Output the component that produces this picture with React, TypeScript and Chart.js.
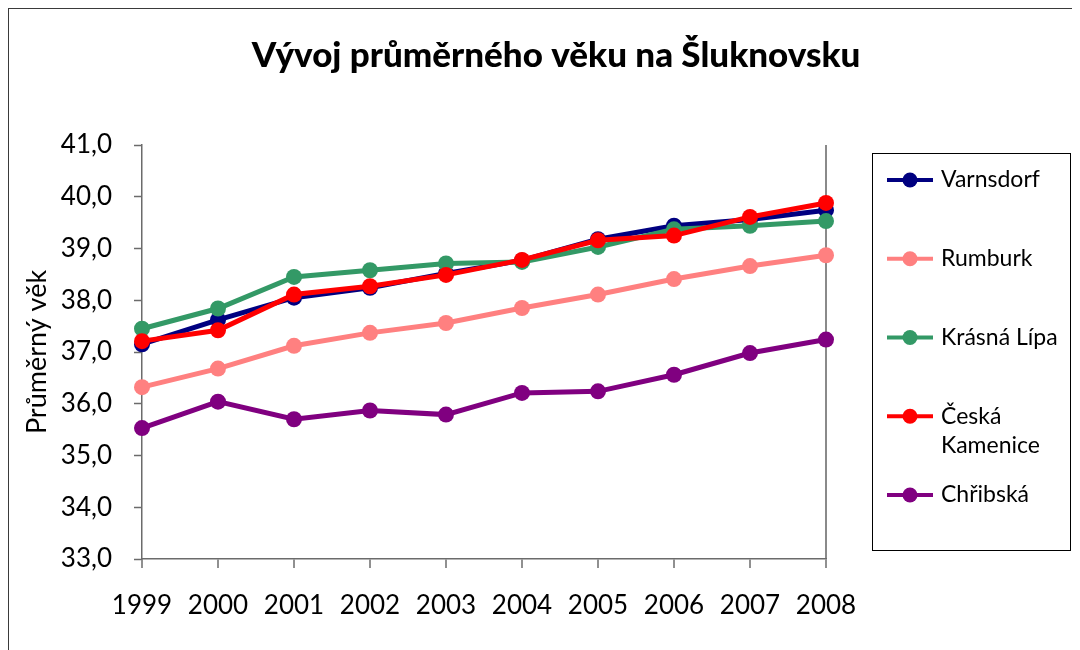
import React, { useEffect, useRef } from "react";
import { Chart, registerables } from "chart.js";

Chart.register(...registerables);

const chartTitle = "Vývoj průměrného věku na Šluknovsku";
const yAxisTitle = "Průměrný věk";
const years = ["1999", "2000", "2001", "2002", "2003", "2004", "2005", "2006", "2007", "2008"];
const seriesNames = ["Varnsdorf", "Rumburk", "Krásná Lípa", "Česká Kamenice", "Chřibská"];
const varnsdorf = [37.15, 37.62, 38.05, 38.24, 38.52, 38.77, 39.18, 39.44, 39.56, 39.74];
const rumburk = [36.32, 36.68, 37.12, 37.37, 37.56, 37.85, 38.11, 38.41, 38.66, 38.87];
const krasnaLipa = [37.45, 37.84, 38.45, 38.58, 38.71, 38.74, 39.03, 39.37, 39.44, 39.53];
const ceskaKamenice = [37.21, 37.42, 38.11, 38.27, 38.49, 38.78, 39.16, 39.25, 39.61, 39.88];
const chribska = [35.53, 36.04, 35.7, 35.87, 35.79, 36.21, 36.24, 36.56, 36.98, 37.24];
const seriesValues = [varnsdorf, rumburk, krasnaLipa, ceskaKamenice, chribska];
const seriesColors = ["#000080", "#FF8080", "#339966", "#FF0000", "#800080"];
const yMin = 33;
const yMax = 41;

const FONT = "Lato, 'Open Sans', sans-serif";
const AXIS_COLOR = "#6b6b6b";

const titlePlugin = {
  id: "customTitle",
  afterDraw(chart: any) {
    const ctx = chart.ctx;
    ctx.save();
    ctx.fillStyle = "#000";
    ctx.font = `900 35px ${FONT}`;
    ctx.textAlign = "center";
    ctx.textBaseline = "alphabetic";
    ctx.fillText(chartTitle, 547, 58);
    ctx.restore();
  },
};

const legendPlugin = {
  id: "customLegend",
  afterDraw(chart: any) {
    const ctx = chart.ctx;
    ctx.save();
    ctx.strokeStyle = "#000";
    ctx.lineWidth = 1;
    ctx.strokeRect(863.5, 144.5, 198, 397);
    ctx.font = `23px ${FONT}`;
    ctx.textBaseline = "middle";
    ctx.textAlign = "left";
    const maxW = 124;
    chart.data.datasets.forEach((ds: any, i: number) => {
      const y = 171 + 78.75 * i;
      ctx.strokeStyle = ds.borderColor;
      ctx.lineWidth = 4;
      ctx.beginPath();
      ctx.moveTo(878, y);
      ctx.lineTo(924, y);
      ctx.stroke();
      ctx.fillStyle = ds.borderColor;
      ctx.beginPath();
      ctx.arc(901, y, 7.5, 0, Math.PI * 2);
      ctx.fill();
      const words = String(ds.label).split(" ");
      const lines: string[] = [];
      let cur = "";
      words.forEach((w) => {
        const test = cur ? cur + " " + w : w;
        if (cur && ctx.measureText(test).width > maxW) {
          lines.push(cur);
          cur = w;
        } else {
          cur = test;
        }
      });
      if (cur) lines.push(cur);
      ctx.fillStyle = "#000";
      lines.forEach((ln, k) => {
        ctx.fillText(ln, 932, y + k * 29);
      });
    });
    ctx.restore();
  },
};

export default function App() {
  const ref = useRef<HTMLCanvasElement | null>(null);

  useEffect(() => {
    document.documentElement.style.overflow = "hidden";
    const canvas = ref.current;
    if (!canvas) return;
    const chart = new Chart(canvas, {
      type: "line",
      data: {
        labels: years,
        datasets: seriesNames.map((name, i) => ({
          label: name,
          data: seriesValues[i],
          borderColor: seriesColors[i],
          backgroundColor: seriesColors[i],
          pointBackgroundColor: seriesColors[i],
          pointBorderColor: seriesColors[i],
          pointBorderWidth: 0,
          pointRadius: 8,
          pointHoverRadius: 8,
          borderWidth: 5,
          tension: 0,
          fill: false,
          order: seriesNames.length - 1 - i,
        })),
      },
      options: {
        responsive: false,
        maintainAspectRatio: false,
        animation: false,
        devicePixelRatio: 1,
        layout: { padding: { left: 0, right: 251, top: 136, bottom: 0 } },
        plugins: {
          legend: { display: false },
          title: { display: false },
          tooltip: { enabled: false },
        },
        scales: {
          x: {
            type: "category",
            offset: false,
            afterFit: (scale: any) => {
              scale.height = 141;
            },
            grid: {
              display: true,
              drawOnChartArea: true,
              drawTicks: true,
              tickLength: 9,
              color: (c: any) => (c.index === years.length - 1 ? "#8a8a8a" : "rgba(0,0,0,0)"),
              lineWidth: 2,
              tickColor: AXIS_COLOR,
              tickWidth: 1.5,
            },
            border: { display: true, color: AXIS_COLOR, width: 1.5 },
            ticks: {
              color: "#000",
              font: { family: FONT, size: 26 },
              padding: 22,
              maxRotation: 0,
              autoSkip: false,
            },
          },
          y: {
            min: yMin,
            max: yMax,
            afterFit: (scale: any) => {
              scale.width = 133;
            },
            grid: {
              display: true,
              drawOnChartArea: false,
              drawTicks: true,
              tickLength: 8,
              tickColor: AXIS_COLOR,
              tickWidth: 1.5,
            },
            border: { display: true, color: AXIS_COLOR, width: 1.5 },
            ticks: {
              stepSize: 1,
              color: "#000",
              font: { family: FONT, size: 26 },
              padding: 22,
              callback: (v: any) => Number(v).toFixed(1).replace(".", ","),
            },
            title: {
              display: true,
              text: yAxisTitle,
              color: "#000",
              font: { family: FONT, size: 27 },
              padding: { top: 12, bottom: 0 },
            },
          },
        },
      },
      plugins: [titlePlugin, legendPlugin],
    } as any);
    return () => chart.destroy();
  }, []);

  return (
    <div
      style={{
        position: "relative",
        width: 1070,
        height: 700,
        border: "1px solid #3a3a3a",
        boxSizing: "border-box",
        background: "#fff",
      }}
    >
      <canvas ref={ref} width={1068} height={691} style={{ display: "block", width: 1068, height: 691 }} />
    </div>
  );
}
